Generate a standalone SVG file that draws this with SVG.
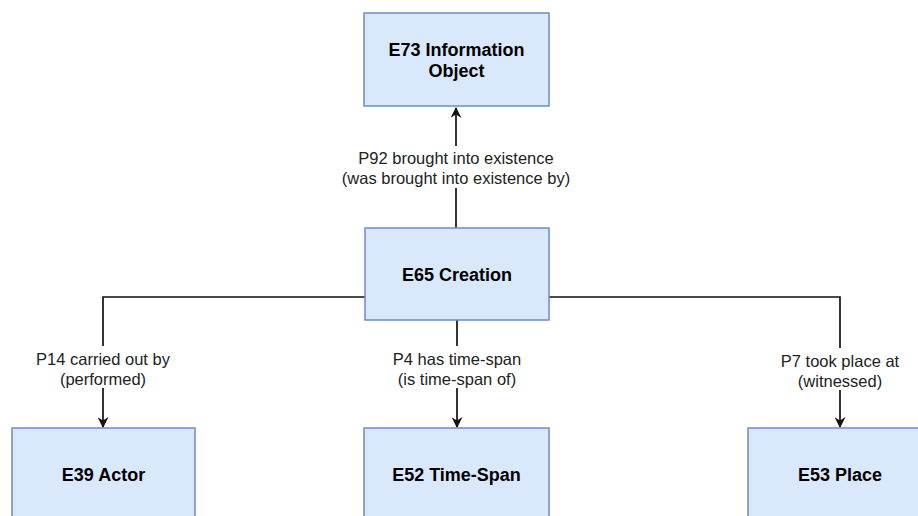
<svg xmlns="http://www.w3.org/2000/svg" width="918" height="516" viewBox="0 0 918 516">
  <style>
    .node rect { fill: #dae8fc; stroke: #6c8ebf; stroke-width: 1.5; }
    .node text { font-family: "Liberation Sans", Arial, sans-serif; font-size: 18px; font-weight: bold; fill: #000; text-anchor: middle; }
    .edge { fill: none; stroke: #111; stroke-width: 1.7; }
    .lbl-bg { fill: #fff; }
    .lbl { font-family: "Liberation Sans", Arial, sans-serif; font-size: 16.5px; fill: #222; text-anchor: middle; }
  </style>
  <defs>
    <marker id="arrow" viewBox="0 0 10 10" refX="9" refY="5" markerWidth="12" markerHeight="11" markerUnits="userSpaceOnUse" orient="auto">
      <path d="M0,0 L10,5 L0,10 L3,5 Z" fill="#111"/>
    </marker>
  </defs>
  <rect width="918" height="516" fill="#fff"/>

  <g id="connectors">
    <path class="edge" d="M456,228 V108" marker-end="url(#arrow)"/>
    <path class="edge" d="M365,297 H103 V427" marker-end="url(#arrow)"/>
    <path class="edge" d="M457,320 V427" marker-end="url(#arrow)"/>
    <path class="edge" d="M549,297 H840 V427" marker-end="url(#arrow)"/>

    <rect class="lbl-bg" x="355" y="146" width="202" height="42"/>
    <text class="lbl" x="456" y="164">P92 brought into existence</text>
    <text class="lbl" x="456" y="184">(was brought into existence by)</text>

    <rect class="lbl-bg" x="38" y="346" width="130" height="42"/>
    <text class="lbl" x="103" y="365">P14 carried out by</text>
    <text class="lbl" x="103" y="385">(performed)</text>

    <rect class="lbl-bg" x="388" y="346" width="138" height="42"/>
    <text class="lbl" x="457" y="365">P4 has time-span</text>
    <text class="lbl" x="457" y="385">(is time-span of)</text>

    <rect class="lbl-bg" x="781" y="348" width="118" height="42"/>
    <text class="lbl" x="840" y="367">P7 took place at</text>
    <text class="lbl" x="840" y="387">(witnessed)</text>
  </g>

  <g id="e73" class="node">
    <rect x="364" y="13" width="185" height="93"/>
    <text x="456.5" y="56">E73 Information</text>
    <text x="456.5" y="77">Object</text>
  </g>
  <g id="e65" class="node">
    <rect x="365" y="228" width="184" height="92"/>
    <text x="457" y="281">E65 Creation</text>
  </g>
  <g id="e39" class="node">
    <rect x="12" y="428" width="183" height="94"/>
    <text x="103.5" y="481">E39 Actor</text>
  </g>
  <g id="e52" class="node">
    <rect x="364" y="428" width="185" height="94"/>
    <text x="456.5" y="481">E52 Time-Span</text>
  </g>
  <g id="e53" class="node">
    <rect x="748" y="428" width="185" height="94"/>
    <text x="840" y="481">E53 Place</text>
  </g>
</svg>
